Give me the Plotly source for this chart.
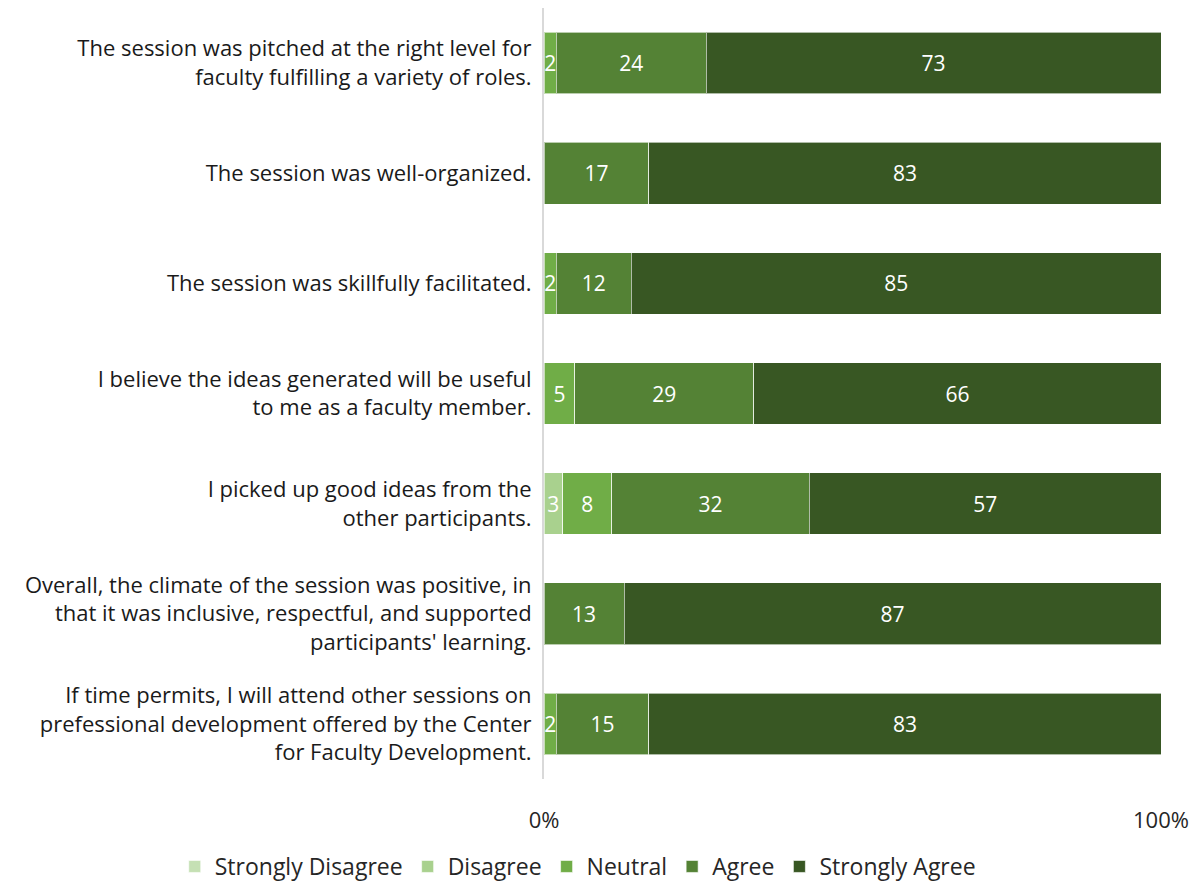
import plotly.graph_objects as go

categories = [
    "The session was pitched at the right level for<br>faculty fulfilling a variety of roles.",
    "The session was well-organized.",
    "The session was skillfully facilitated.",
    "I believe the ideas generated will be useful<br>to me as a faculty member.",
    "I picked up good ideas from the<br>other participants.",
    "Overall, the climate of the session was positive, in<br>that it was inclusive, respectful, and supported<br>participants' learning.",
    "If time permits, I will attend other sessions on<br>prefessional development offered by the Center<br>for Faculty Development.",
]

strongly_disagree = [0, 0, 0, 0, 0, 0, 0]
disagree = [0, 0, 0, 0, 3, 0, 0]
neutral = [2, 0, 2, 5, 8, 0, 2]
agree = [24, 17, 12, 29, 32, 13, 15]
strongly_agree = [73, 83, 85, 66, 57, 87, 83]

series = [
    ("Strongly Disagree", strongly_disagree, "#C5E0B4"),
    ("Disagree", disagree, "#A9D18E"),
    ("Neutral", neutral, "#70AD47"),
    ("Agree", agree, "#548235"),
    ("Strongly Agree", strongly_agree, "#385723"),
]

FONT = "Open Sans"
fig = go.Figure()
for name, vals, color in series:
    fig.add_trace(go.Bar(
        name=name,
        y=categories,
        x=vals,
        orientation="h",
        marker=dict(color=color, line=dict(color="rgba(255,255,255,0.6)", width=1)),
        text=[str(v) if v else "" for v in vals],
        texttemplate="%{text}",
        textposition="inside",
        insidetextanchor="middle",
        textfont=dict(color="white", size=21, family=FONT),
        hoverinfo="x+name",
    ))

fig.update_layout(
    barmode="stack",
    barnorm="percent",
    bargap=0.44,
    width=1190,
    height=878,
    paper_bgcolor="white",
    plot_bgcolor="white",
    margin=dict(l=536, r=37, t=0, b=107, autoexpand=False),
    font=dict(family=FONT, size=22, color="#1a1a1a"),
    uniformtext=dict(minsize=21, mode="show"),
    legend=dict(orientation="h", x=-0.5985, xanchor="left", xref="paper",
                y=-0.0856, yanchor="top", font=dict(size=23, color="#262626"),
                itemwidth=30, traceorder="normal"),
    showlegend=True,
)
fig.update_xaxes(
    range=[0, 100],
    tickvals=[0, 100],
    ticktext=["0%", "100%"],
    showgrid=False,
    zeroline=False,
    ticks="outside",
    ticklen=22,
    tickcolor="white",
    tickfont=dict(size=22, color="#262626"),
)
fig.update_yaxes(
    autorange="reversed",
    showline=True,
    linecolor="#d9d9d9",
    linewidth=2,
    showgrid=False,
    ticks="",
    ticklabelstandoff=6,
    tickfont=dict(size=22, color="#1a1a1a"),
)

fig.write_html("out.html")
